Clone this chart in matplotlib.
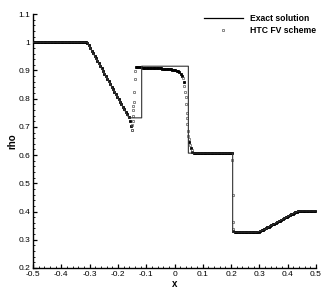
import numpy as np
import matplotlib
matplotlib.use("Agg")
import matplotlib.pyplot as plt
from matplotlib.ticker import MultipleLocator, FuncFormatter

plt.rcParams['font.family'] = ['Liberation Sans', 'DejaVu Sans']
plt.rcParams['axes.unicode_minus'] = False

# ---------------- data ----------------
# exact solution (polyline vertices)
exact_x = [-0.5, -0.309, -0.161, -0.116, -0.116, 0.049, 0.049, 0.2055, 0.2055,
           0.29, 0.30, 0.32, 0.34, 0.36, 0.38, 0.40, 0.42, 0.435, 0.445, 0.5]
exact_rho = [1.0, 1.0, 0.732, 0.732, 0.915, 0.915, 0.607, 0.607, 0.327,
             0.327, 0.329, 0.337, 0.349, 0.360, 0.371, 0.382, 0.393, 0.400, 0.402, 0.402]

# numerical solution on the cell grid (cell centres -0.4975 ... 0.4975, 200 cells)
n_cells = 200
htc_rho = [
    # -0.4975 .. -0.3125
    1.000, 1.000, 1.000, 1.000, 1.000, 1.000, 1.000, 1.000, 1.000, 1.000,
    1.000, 1.000, 1.000, 1.000, 1.000, 1.000, 1.000, 1.000, 1.000, 1.000,
    1.000, 1.000, 1.000, 1.000, 1.000, 1.000, 1.000, 1.000, 1.000, 1.000,
    1.000, 1.000, 1.000, 1.000, 1.000, 1.000, 1.000, 1.000,
    # -0.3075 .. -0.1525 (rarefaction)
    0.998, 0.991, 0.981, 0.970, 0.961, 0.952, 0.943, 0.934, 0.925, 0.916,
    0.907, 0.898, 0.889, 0.880, 0.871, 0.862, 0.852, 0.843, 0.834, 0.825,
    0.816, 0.807, 0.798, 0.789, 0.780, 0.771, 0.762, 0.753, 0.744, 0.734,
    0.722, 0.703,
    # -0.1475, -0.1425
    0.740, 0.824,
    # -0.1375 .. 0.0275
    0.913, 0.913, 0.912, 0.911, 0.911, 0.910, 0.910, 0.910, 0.909, 0.909,
    0.909, 0.908, 0.908, 0.908, 0.908, 0.907, 0.907, 0.907, 0.907, 0.906,
    0.906, 0.906, 0.905, 0.905, 0.904, 0.904, 0.903, 0.902, 0.901, 0.899,
    0.897, 0.894, 0.889, 0.880,
    # 0.0325 .. 0.0575 (contact)
    0.860, 0.825, 0.750, 0.685, 0.645, 0.626,
    # 0.0625 .. 0.2025
    0.612, 0.609, 0.608,
    0.607, 0.607, 0.607, 0.607, 0.607, 0.607, 0.607, 0.607, 0.607, 0.607,
    0.607, 0.607, 0.607, 0.607, 0.607, 0.607, 0.607, 0.607, 0.607, 0.607,
    0.607, 0.607, 0.607, 0.607, 0.607, 0.607,
    # 0.2075
    0.330,
    # 0.2125 .. 0.2875
    0.327, 0.327, 0.327, 0.327, 0.327, 0.327, 0.327, 0.327, 0.327, 0.327,
    0.327, 0.327, 0.327, 0.327, 0.327, 0.327,
    # 0.2925 .. 0.4425
    0.328, 0.329, 0.331, 0.333, 0.336, 0.338, 0.341, 0.344, 0.346, 0.349,
    0.352, 0.355, 0.357, 0.360, 0.363, 0.365, 0.368, 0.371, 0.374, 0.376,
    0.379, 0.382, 0.385, 0.388, 0.390, 0.393, 0.395, 0.397, 0.399, 0.401,
    0.402,
    # 0.4475 .. 0.4975
    0.402, 0.402, 0.402, 0.402, 0.402, 0.402, 0.402, 0.402, 0.402, 0.402,
    0.402,
]
htc_x = np.linspace(-0.4975, 0.4975, n_cells)

# additional isolated markers seen inside the steep transitions
jump_x = [-0.1505, -0.1495, -0.1485, -0.148, -0.1465, -0.1455, -0.1445, -0.1405, -0.1385,
          0.0295, 0.035, 0.040, 0.041, 0.044, 0.0455, 0.049, 0.0505, 0.055, 0.0605,
          0.2045, 0.2055, 0.2065, 0.2075]
jump_rho = [0.690, 0.688, 0.705, 0.720, 0.759, 0.773, 0.787, 0.871, 0.899,
            0.874, 0.846, 0.805, 0.782, 0.732, 0.710, 0.667, 0.656, 0.636, 0.617,
            0.582, 0.458, 0.362, 0.339]

# ---------------- figure ----------------
fig = plt.figure(figsize=(3.32, 2.96), dpi=100)
ax = fig.add_axes([33/332, 1 - 268/296, (316 - 33)/332, (268 - 14)/296])

r = np.asarray(htc_rho)
d = np.abs(np.diff(r))
steep = np.zeros(len(r), bool)
steep[1:] |= d > 0.025
steep[:-1] |= d > 0.025
smooth = ~steep
# keep the last cells before/after a jump as part of the dense band when they sit on a plateau
for i in np.where(steep)[0]:
    left_ok = i > 0 and abs(r[i] - r[i - 1]) < 0.025
    right_ok = i < len(r) - 1 and abs(r[i + 1] - r[i]) < 0.025
    if left_ok or right_ok:
        smooth[i] = True

mk = dict(linestyle='none', marker='s')
ax.plot(htc_x[smooth], r[smooth], markersize=2.0, mfc='k', mec='k', mew=0.6,
        zorder=2, **mk)
ax.plot(htc_x[~smooth], r[~smooth], markersize=2.0, mfc='none', mec='0.35', mew=0.5,
        zorder=2, **mk)
ax.plot(jump_x, jump_rho, markersize=2.0, mfc='none', mec='0.35', mew=0.5, zorder=2, **mk)
ax.plot(exact_x, exact_rho, color='0.2', lw=0.8, zorder=3)

# legend proxies
h_exact, = ax.plot([], [], color='k', lw=0.9)
h_htc, = ax.plot([], [], markersize=2.0, mfc='none', mec='0.35', mew=0.5, **mk)

ax.set_xlim(-0.5, 0.5)
ax.set_ylim(0.2, 1.1)
ax.xaxis.set_major_locator(MultipleLocator(0.1))
ax.xaxis.set_minor_locator(MultipleLocator(0.02))
ax.yaxis.set_major_locator(MultipleLocator(0.1))
ax.yaxis.set_minor_locator(MultipleLocator(0.02))
fmt = FuncFormatter(lambda v, p: ('%g' % round(v, 6)))
ax.xaxis.set_major_formatter(fmt)
ax.yaxis.set_major_formatter(fmt)

for s in ['top', 'right']:
    ax.spines[s].set_visible(False)
for s in ['left', 'bottom']:
    ax.spines[s].set_linewidth(1.0)

ax.tick_params(which='major', direction='in', length=3.0, width=0.9,
               labelsize=6, pad=2)
ax.tick_params(which='minor', direction='in', length=1.6, width=0.6)

ax.set_xlabel('x', fontsize=7, fontweight='bold', labelpad=1)
ax.set_ylabel('rho', fontsize=7, fontweight='bold', labelpad=1)

leg = ax.legend([h_exact, h_htc], ['Exact solution', 'HTC FV scheme'], loc='upper left',
                bbox_to_anchor=(204/332, 1 - 14/296), bbox_transform=fig.transFigure,
                frameon=False, borderpad=0, borderaxespad=0, handlelength=4.5,
                handletextpad=0.8, labelspacing=0.35, numpoints=1,
                prop={'size': 6.2, 'weight': 'bold'})

fig.savefig('out.png', dpi=100)
